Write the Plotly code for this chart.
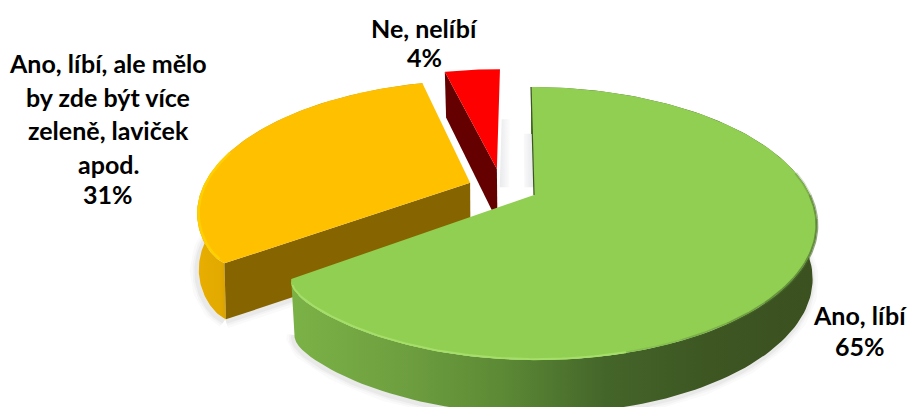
import numpy as np
import plotly.graph_objects as go

# --- chart data ---
categories = ["Ano, líbí", "Ano, líbí, ale mělo by zde být více zeleně, laviček apod.", "Ne, nelíbí"]
values = [65, 31, 4]
label_lines = [
    ["Ano, líbí", "65%"],
    ["Ano, líbí, ale mělo", "by zde být více", "zeleně, laviček", "apod.", "31%"],
    ["Ne, nelíbí", "4%"],
]

# --- styles / geometry of the 3-D pie ---
offsets = [(0.0, 0.0), (-0.235, 0.095), (-0.138, 0.208)]
radii = [1.0, 0.98, 1.0]
corner_round = [0.035, 0.015, 0.0]
lower_scale = [0.985, 0.995, 0.985]
wall_height = [54, 56, 54]
top_colors = ["#90CF52", "#FFC000", "#FF0000"]
cut_colors = ["#3C5522", "#866500", "#640000"]
label_pos = [(860, [315, 346]), (108, [63, 97, 130, 164, 194]), (424, [28, 57])]
CX, CY, RX, RY, K = 534, 195, 276, 130.5, 0.209


def project(x, y, lower=None):
    x, y = np.asarray(x, float), np.asarray(y, float)
    s = 1 / (1 + K * y)
    sx = s * (1.0 if lower is None else lower_scale[lower])
    px = CX + RX * x * sx - 3 * y
    py = CY - RY * y * s
    if lower is not None:
        py = py + wall_height[lower] - 7 * np.maximum(y, 0)
    return px, py


angles = np.cumsum([0] + values) / sum(values) * 360
corner = angles[1]


def arc(i, a0=None, a1=None, n=160, inset=0.0):
    a0 = angles[i] if a0 is None else a0
    a1 = angles[i + 1] if a1 is None else a1
    t = np.linspace(a0, a1, n)
    r = radii[i] - corner_round[i] * np.exp(-np.abs(t - corner) / 3.0) - inset
    rad = np.deg2rad(t)
    return r * np.sin(rad) + offsets[i][0], r * np.cos(rad) + offsets[i][1]


fig = go.Figure()


def poly(px, py, color=None, gradient=None):
    kw = dict(fillgradient=gradient) if gradient else dict(fillcolor=color)
    fig.add_trace(go.Scatter(x=list(px) + [px[0]], y=list(py) + [py[0]], mode="lines", fill="toself",
                             line=dict(width=0), hoverinfo="skip", showlegend=False, **kw))


def stroke(px, py, color, width):
    fig.add_trace(go.Scatter(x=px, y=py, mode="lines", line=dict(color=color, width=width, shape="linear"),
                             hoverinfo="skip", showlegend=False))


def wall(i, gradient):
    x, y = arc(i)
    tx, ty = project(x, y)
    bx, by = project(x, y, i)
    poly(np.r_[tx, bx[::-1]], np.r_[ty, by[::-1]], gradient=gradient)


def top(i):
    x, y = arc(i)
    px, py = project(np.r_[offsets[i][0], x], np.r_[offsets[i][1], y])
    poly(px, py, top_colors[i])


def cut(i, ax, ay):
    ox, oy = offsets[i]
    xs, ys = np.array([ox, ax]), np.array([oy, ay])
    tx, ty = project(xs, ys)
    bx, by = project(xs, ys, i)
    poly(np.r_[tx, bx[::-1]], np.r_[ty, by[::-1]], cut_colors[i])


def hgrad(stops, start, stop):
    return dict(type="horizontal", colorscale=stops, start=start, stop=stop)


# soft shadows under the discs
for w, a in [(14, 0.025), (9, 0.035), (5, 0.05)]:
    x, y = arc(0, 90, angles[1])
    bx, by = project(x, y, 0)
    stroke(bx - 1, by + 2, f"rgba(60,60,60,{a})", w)
    x, y = arc(1, angles[1], 300)
    bx, by = project(x, y, 1)
    stroke(bx - 2, by + 2, f"rgba(60,60,60,{a})", w)
    x0, y0 = arc(1, angles[1], angles[1], 1)
    bx, by = project([x0[0], offsets[1][0]], [y0[0], offsets[1][1]], 1)
    stroke(bx, by + 2, f"rgba(60,60,60,{a})", w)

# shadow smudges in the gaps beside the red slice
poly(*project(np.array([-0.125, -0.09, -0.09, -0.125]), np.array([0.66, 0.66, 0.06, 0.06])),
     gradient=hgrad([[0, "rgba(120,125,140,0.16)"], [1, "rgba(120,125,140,0)"]], 500, 511))
poly(*project(np.array([-0.035, -0.0, -0.0, -0.035]), np.array([0.52, 0.52, 0.06, 0.06])),
     gradient=hgrad([[0, "rgba(120,125,140,0)"], [1, "rgba(120,125,140,0.16)"]], 521, 532))

# yellow slice
wall(1, hgrad([[0, "#E8AE00"], [0.6, "#E2A900"], [1, "#C59400"]], 198, 236))
xc, yc = arc(1, corner, corner, 1)
cut(1, xc[0], yc[0])
top(1)
x, y = arc(1, corner + 2, 285, 60, inset=0.005)
stroke(*project(x, y), "#FFD000", 2.5)

# red slice
xr, yr = arc(2, angles[2], angles[2], 1)
cut(2, xr[0], yr[0])
top(2)

# green slice
wall(0, hgrad([[0, "#7BB246"], [0.2, "#6FA040"], [0.4, "#5C8A35"], [0.6, "#44652A"], [0.8, "#3D5622"], [1, "#3B5120"]], 292, 815))
top(0)
x, y = arc(0, 0, 0, 1)
lx, ly = project([0, x[0]], [0, y[0]])
stroke(lx, ly, cut_colors[0], 1.2)
x, y = arc(0, 165, corner - 2, 100, inset=0.004)
stroke(*project(x, y), "#A5DE68", 2)
for a0, a1, alpha in [(80, 90, 0.25), (90, 100, 0.5), (100, 135, 0.6), (135, 145, 0.45), (145, 155, 0.3), (155, 165, 0.15)]:
    x, y = arc(0, a0, a1, 30)
    stroke(*project(x, y), f"rgba(70,105,40,{alpha})", 3)

# labels
annotations = []
for lines, (lx, ys) in zip(label_lines, label_pos):
    for line, ly in zip(lines, ys):
        annotations.append(dict(x=lx, y=ly, text=f"<b>{line}</b>", showarrow=False, xanchor="center", yanchor="middle",
                                font=dict(family="Lato", size=25, color="#000000")))

fig.update_layout(
    width=910, height=407, margin=dict(l=0, r=0, t=0, b=0),
    paper_bgcolor="white", plot_bgcolor="white", showlegend=False, annotations=annotations,
    xaxis=dict(range=[0, 910], visible=False, fixedrange=True),
    yaxis=dict(range=[407, 0], visible=False, fixedrange=True),
)
fig.write_html("out.html", config=dict(displayModeBar=False), post_script="document.body.style.margin='0';")
